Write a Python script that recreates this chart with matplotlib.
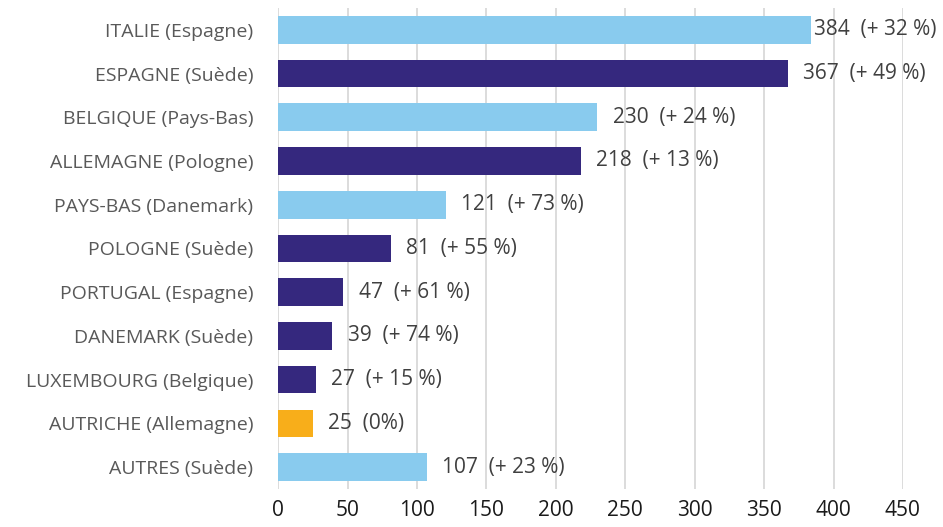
import numpy as np
import matplotlib.pyplot as plt

# Données
pays = ['ITALIE (Espagne)', 'ESPAGNE (Suède)', 'BELGIQUE (Pays-Bas)', 'ALLEMAGNE (Pologne)',
        'PAYS-BAS (Danemark)', 'POLOGNE (Suède)', 'PORTUGAL (Espagne)', 'DANEMARK (Suède)',
        'LUXEMBOURG (Belgique)', 'AUTRICHE (Allemagne)', 'AUTRES (Suède)']
valeurs = [384, 367, 230, 218, 121, 81, 47, 39, 27, 25, 107]
evolution = ['+ 32 %', '+ 49 %', '+ 24 %', '+ 13 %', '+ 73 %', '+ 55 %', '+ 61 %',
             '+ 74 %', '+ 15 %', '0%', '+ 23 %']
groupe = ['clair', 'fonce', 'clair', 'fonce', 'clair', 'fonce', 'fonce', 'fonce',
          'fonce', 'orange', 'clair']
ticks_x = [0, 50, 100, 150, 200, 250, 300, 350, 400, 450]

couleurs = {'clair': '#89CBEE', 'fonce': '#35287E', 'orange': '#F8AE1A'}

plt.rcParams['font.family'] = ['Open Sans', 'DejaVu Sans']

fig = plt.figure(figsize=(9.43, 5.27), dpi=100)
ax = fig.add_axes([0.295, 0.072, 0.6625, 0.913])

y = np.arange(len(pays))
ax.barh(y, valeurs, height=0.63, color=[couleurs[g] for g in groupe], zorder=3)

# étiquettes de valeurs
for yi, v, e in zip(y, valeurs, evolution):
    gap = 2 if v > 380 else 11
    ax.annotate(f'{v}  ({e})', xy=(v, yi), xytext=(gap, 0), textcoords='offset points',
                va='center', ha='left', fontsize=15, color='#404040', clip_on=False)

ax.set_yticks(y)
ax.set_yticklabels(pays, fontsize=14, color='#595959')
ax.set_xticks(ticks_x)
ax.set_xticklabels([str(t) for t in ticks_x], fontsize=15, color='#1a1a1a')
ax.set_xlim(0, 450)
ax.set_ylim(len(pays) - 0.5, -0.5)

ax.grid(axis='x', color='#d9d9d9', linewidth=1.3, zorder=0)
for s in ax.spines.values():
    s.set_visible(False)
ax.tick_params(axis='both', length=0)
ax.tick_params(axis='y', pad=18)
ax.tick_params(axis='x', pad=8)

fig.savefig('out.png', dpi=100)
